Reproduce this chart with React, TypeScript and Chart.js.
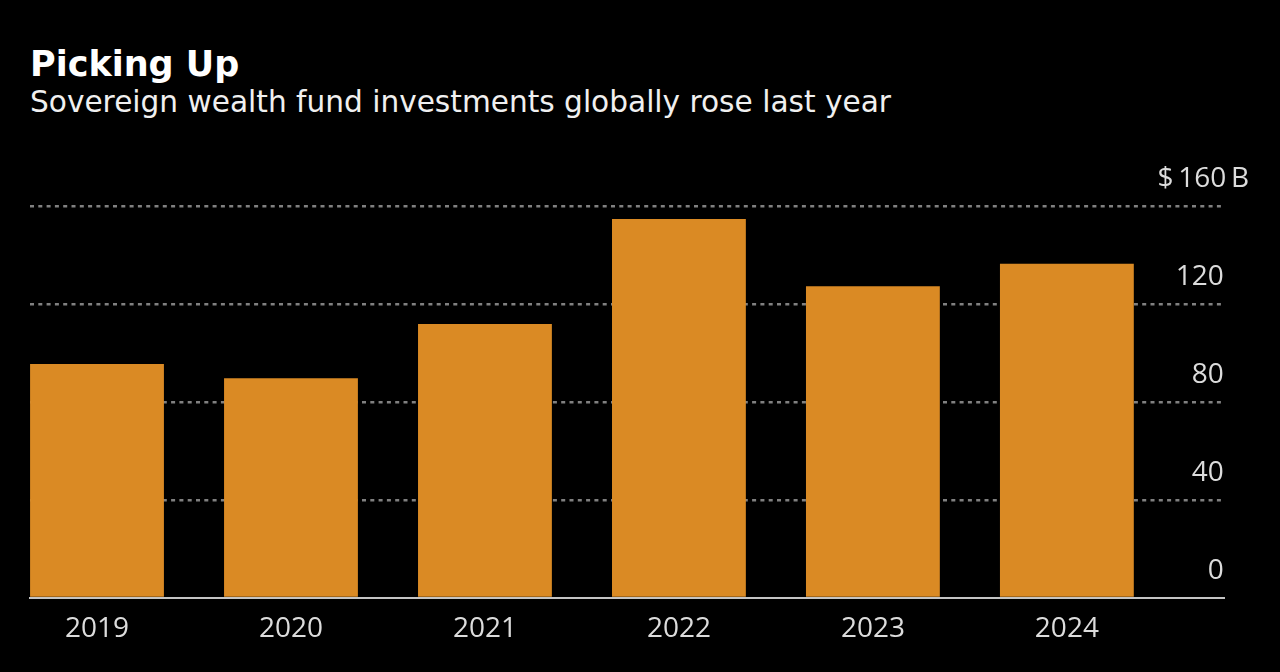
import React, { useEffect, useRef } from "react";
import { Chart, registerables } from "chart.js";

Chart.register(...registerables);

const TITLE = "Picking Up";
const SUBTITLE = "Sovereign wealth fund investments globally rose last year";
const years = ["2019", "2020", "2021", "2022", "2023", "2024"];
const investments = [95.5, 89.7, 111.8, 154.7, 127.2, 136.4];
const yTicks = [0, 40, 80, 120, 160];

const FONT = "'Open Sans', 'Noto Sans', sans-serif";
const HEAD_FONT = "'DejaVu Sans', sans-serif";

export default function App() {
  const ref = useRef<HTMLCanvasElement | null>(null);

  useEffect(() => {
    if (!ref.current) return;
    const chart = new Chart(ref.current, {
      type: "bar",
      data: {
        datasets: [
          {
            data: years.map((_, i) => ({ x: i, y: investments[i] })),
            backgroundColor: "#DA8A24",
            borderWidth: 0,
            categoryPercentage: 1,
            barPercentage: 0.69,
          },
        ],
      },
      options: {
        animation: false,
        responsive: true,
        maintainAspectRatio: false,
        layout: { padding: { left: 30, right: 56, top: 206, bottom: 24 } },
        plugins: { legend: { display: false }, tooltip: { enabled: false } },
        scales: {
          x: {
            type: "linear",
            bounds: "data",
            min: -0.3454,
            max: 5.81,
            offset: false,
            afterBuildTicks: (s: any) => {
              s.ticks = years.map((_, i) => ({ value: i }));
            },
            grid: { display: false, drawTicks: false },
            border: { display: true, color: "#c4c4c4", width: 2 },
            afterFit: (s: any) => {
              s.height = 50;
            },
            ticks: {
              autoSkip: false,
              maxRotation: 0,
              padding: 14,
              color: "#dcdcdc",
              font: { family: FONT, size: 28 },
              callback: (v: any) => {
                const i = Math.round(Number(v));
                return years[i] !== undefined ? years[i] : "";
              },
            },
          },
          y: {
            type: "linear",
            position: "right",
            min: 0,
            max: 160,
            afterFit: (s: any) => {
              s.width = 0;
            },
            afterBuildTicks: (s: any) => {
              s.ticks = yTicks.map((v) => ({ value: v }));
            },
            grid: {
              drawTicks: false,
              lineWidth: 2.5,
              color: (ctx: any) =>
                ctx.tick && ctx.tick.value === 0 ? "rgba(0,0,0,0)" : "#808080",
            },
            border: { display: false, dash: [4, 4.3] },
            ticks: {
              mirror: true,
              padding: 25,
              labelOffset: -27,
              color: "#dcdcdc",
              font: { family: FONT, size: 28 },
              callback: (v: any) =>
                v === 160 ? "$\u2009160\u2009B" : `${v}\u2007\u2009\u2009`,
            },
          },
        },
      },
    });
    return () => chart.destroy();
  }, []);

  return (
    <div
      style={{
        position: "absolute",
        left: 0,
        top: 0,
        width: 1280,
        height: 672,
        background: "#000",
        overflow: "hidden",
      }}
    >
      <div
        style={{
          position: "absolute",
          left: 30,
          top: 47,
          font: `700 35px ${HEAD_FONT}`,
          lineHeight: "35px",
          color: "#ffffff",
          whiteSpace: "nowrap",
        }}
      >
        {TITLE}
      </div>
      <div
        style={{
          position: "absolute",
          left: 30,
          top: 88,
          font: `400 29.6px ${HEAD_FONT}`,
          lineHeight: "29.6px",
          color: "#f0f0f0",
          whiteSpace: "nowrap",
        }}
      >
        {SUBTITLE}
      </div>
      <div style={{ position: "absolute", left: 0, top: 0, width: 1280, height: 672 }}>
        <canvas ref={ref} />
      </div>
    </div>
  );
}
